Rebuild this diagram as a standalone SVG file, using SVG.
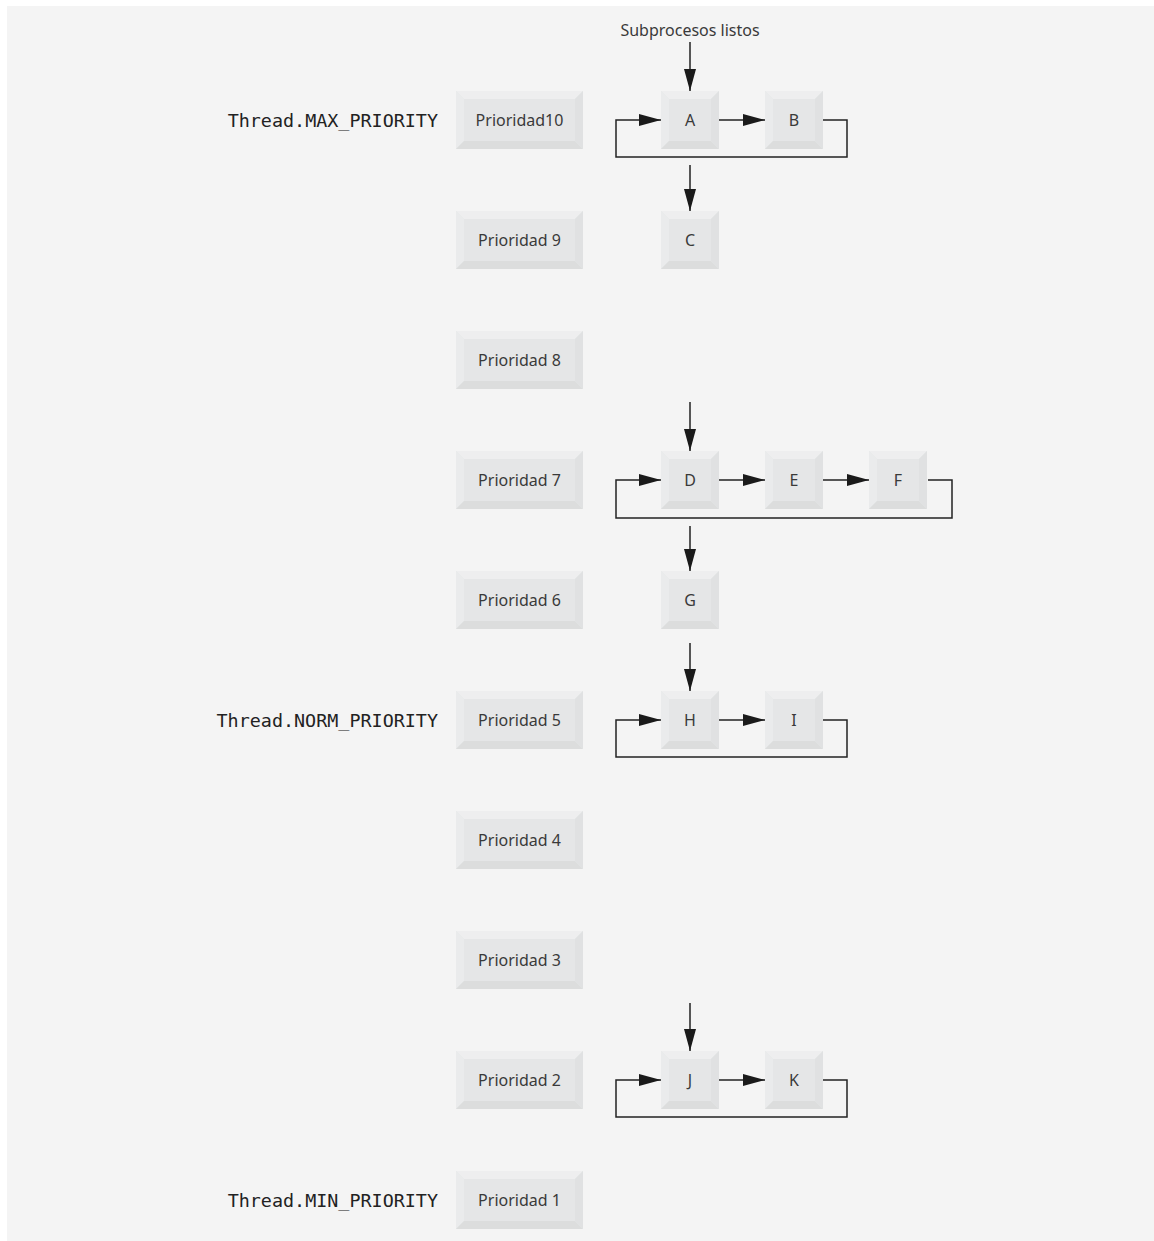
<svg xmlns="http://www.w3.org/2000/svg" xmlns:xlink="http://www.w3.org/1999/xlink" width="1154" height="1241" viewBox="0 0 1154 1241">
<style>
.lbl{font-family:"Noto Sans","Open Sans",sans-serif;font-size:16px;fill:#3a3a3a;text-anchor:middle;dominant-baseline:central}
.mono{font-family:"DejaVu Sans Mono","Liberation Mono",monospace;font-size:18.4px;fill:#222;text-anchor:end;dominant-baseline:central}
.cn{fill:none;stroke:#222;stroke-width:1.5}
.face{fill:#e5e6e7}
.bt{fill:#eeeeef}
.bl{fill:#eaebec}
.bb{fill:#dcdddd}
.br{fill:#e0e1e2}
</style>
<defs>
<marker id="ah" markerUnits="userSpaceOnUse" markerWidth="22" markerHeight="12" refX="22" refY="6" orient="auto">
<path d="M0,0 L22,6 L0,12 Z" fill="#1a1a1a"/>
</marker>
<g id="wide">
<rect class="face" x="0" y="0" width="127" height="58"/>
<polygon class="bt" points="0,0 127,0 119,8 8,8"/>
<polygon class="bl" points="0,0 8,8 8,50 0,58"/>
<polygon class="bb" points="0,58 8,50 119,50 127,58"/>
<polygon class="br" points="127,0 127,58 119,50 119,8"/>
</g>
<g id="sq">
<rect class="face" x="0" y="0" width="58" height="58"/>
<polygon class="bt" points="0,0 58,0 50,8 8,8"/>
<polygon class="bl" points="0,0 8,8 8,50 0,58"/>
<polygon class="bb" points="0,58 8,50 50,50 58,58"/>
<polygon class="br" points="58,0 58,58 50,50 50,8"/>
</g>
</defs>
<rect x="0" y="0" width="1154" height="1241" fill="#ffffff"/>
<rect x="7" y="6" width="1147" height="1235" fill="#f4f4f4"/>

<text class="lbl" x="690" y="30">Subprocesos listos</text>
<text class="mono" x="438" y="120">Thread.MAX_PRIORITY</text>
<text class="mono" x="438" y="720">Thread.NORM_PRIORITY</text>
<text class="mono" x="438" y="1200">Thread.MIN_PRIORITY</text>

<g id="p10"><use xlink:href="#wide" x="456" y="91"/><text class="lbl" x="519.5" y="120">Prioridad10</text></g>
<g id="p9"><use xlink:href="#wide" x="456" y="211"/><text class="lbl" x="519.5" y="240">Prioridad 9</text></g>
<g id="p8"><use xlink:href="#wide" x="456" y="331"/><text class="lbl" x="519.5" y="360">Prioridad 8</text></g>
<g id="p7"><use xlink:href="#wide" x="456" y="451"/><text class="lbl" x="519.5" y="480">Prioridad 7</text></g>
<g id="p6"><use xlink:href="#wide" x="456" y="571"/><text class="lbl" x="519.5" y="600">Prioridad 6</text></g>
<g id="p5"><use xlink:href="#wide" x="456" y="691"/><text class="lbl" x="519.5" y="720">Prioridad 5</text></g>
<g id="p4"><use xlink:href="#wide" x="456" y="811"/><text class="lbl" x="519.5" y="840">Prioridad 4</text></g>
<g id="p3"><use xlink:href="#wide" x="456" y="931"/><text class="lbl" x="519.5" y="960">Prioridad 3</text></g>
<g id="p2"><use xlink:href="#wide" x="456" y="1051"/><text class="lbl" x="519.5" y="1080">Prioridad 2</text></g>
<g id="p1"><use xlink:href="#wide" x="456" y="1171"/><text class="lbl" x="519.5" y="1200">Prioridad 1</text></g>

<g id="tA"><use xlink:href="#sq" x="661" y="91"/><text class="lbl" x="690" y="120">A</text></g>
<g id="tB"><use xlink:href="#sq" x="765" y="91"/><text class="lbl" x="794" y="120">B</text></g>
<g id="tC"><use xlink:href="#sq" x="661" y="211"/><text class="lbl" x="690" y="240">C</text></g>
<g id="tD"><use xlink:href="#sq" x="661" y="451"/><text class="lbl" x="690" y="480">D</text></g>
<g id="tE"><use xlink:href="#sq" x="765" y="451"/><text class="lbl" x="794" y="480">E</text></g>
<g id="tF"><use xlink:href="#sq" x="869" y="451"/><text class="lbl" x="898" y="480">F</text></g>
<g id="tG"><use xlink:href="#sq" x="661" y="571"/><text class="lbl" x="690" y="600">G</text></g>
<g id="tH"><use xlink:href="#sq" x="661" y="691"/><text class="lbl" x="690" y="720">H</text></g>
<g id="tI"><use xlink:href="#sq" x="765" y="691"/><text class="lbl" x="794" y="720">I</text></g>
<g id="tJ"><use xlink:href="#sq" x="661" y="1051"/><text class="lbl" x="690" y="1080">J</text></g>
<g id="tK"><use xlink:href="#sq" x="765" y="1051"/><text class="lbl" x="794" y="1080">K</text></g>

<g id="connectors">
<path class="cn" d="M690,42 V91" marker-end="url(#ah)"/>
<path class="cn" d="M719,120 H765" marker-end="url(#ah)"/>
<path class="cn" d="M823,120 H847 V157 H616 V120 H661" marker-end="url(#ah)"/>
<path class="cn" d="M690,165 V211" marker-end="url(#ah)"/>

<path class="cn" d="M690,402 V451" marker-end="url(#ah)"/>
<path class="cn" d="M719,480 H765" marker-end="url(#ah)"/>
<path class="cn" d="M823,480 H869" marker-end="url(#ah)"/>
<path class="cn" d="M928,480 H952 V518 H616 V480 H661" marker-end="url(#ah)"/>
<path class="cn" d="M690,526 V571" marker-end="url(#ah)"/>

<path class="cn" d="M690,643 V691" marker-end="url(#ah)"/>
<path class="cn" d="M719,720 H765" marker-end="url(#ah)"/>
<path class="cn" d="M823,720 H847 V757 H616 V720 H661" marker-end="url(#ah)"/>

<path class="cn" d="M690,1003 V1051" marker-end="url(#ah)"/>
<path class="cn" d="M719,1080 H765" marker-end="url(#ah)"/>
<path class="cn" d="M823,1080 H847 V1117 H616 V1080 H661" marker-end="url(#ah)"/>
</g>
</svg>
